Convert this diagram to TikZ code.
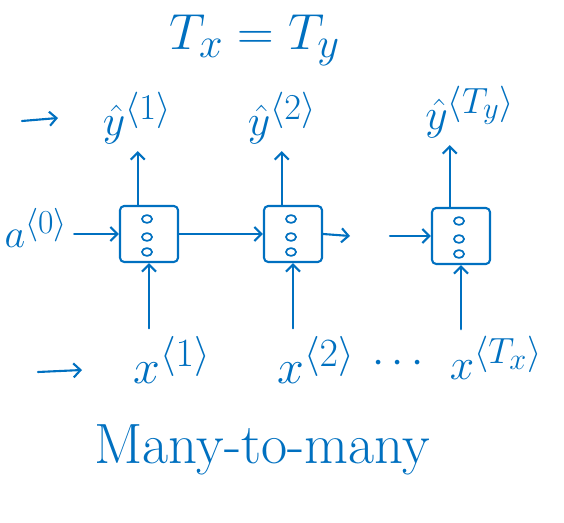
\documentclass[tikz,border=0pt]{standalone}
\usetikzlibrary{arrows.meta}
\definecolor{inkblue}{RGB}{0,112,192}
\begin{document}
\begin{tikzpicture}[x=0.025cm, y=-0.025cm, line width=1.5pt, line join=round, line cap=round,
  >={Straight Barb[length=5pt,width=10pt]}, draw=inkblue, text=inkblue]
	\tikzset{
		cell/.style={draw, rounded corners=3pt, minimum width=1.45cm, minimum height=1.4cm},
		huge/.style={font=\Huge, scale=1.45, transform shape},
		lbl/.style={font=\Huge, scale=1.25, transform shape},
		blip/.style={line width=1.2pt},
	}
	\useasboundingbox (0,0) rectangle (564,523);
	% title and caption
	\node[huge] (title) at (255,40) {$T_x = T_y$};
	\node[huge, scale=1.12] (caption) at (262,450) {Many-to-many};
	% recurrent cells
	\node[cell] (cellA) at (149,234) {};
	\node[cell] (cellB) at (293,234) {};
	\node[cell] (cellC) at (461,236) {};
	\foreach \c in {cellA,cellB,cellC}
		\foreach \dy in {-15,3,18}
			\draw[blip] (\c.center) ++(-2,\dy) ellipse [x radius=3.6pt, y radius=2.8pt];
	% outputs
	\node[lbl] (yA) at (137,118) {$\hat{y}^{\langle 1\rangle}$};
	\node[lbl] (yB) at (282,118) {$\hat{y}^{\langle 2\rangle}$};
	\node[lbl] (yC) at (470,112) {$\hat{y}^{\langle T_y\rangle}$};
	% inputs
	\node[lbl, scale=0.92] (a0) at (36,228) {$a^{\langle 0\rangle}$};
	\node[lbl, scale=1.1] (xA) at (172,360) {$x^{\langle 1\rangle}$};
	\node[lbl, scale=1.1] (xB) at (316,360) {$x^{\langle 2\rangle}$};
	\node[lbl] (gap) at (398,364) {$\cdots$};
	\node[lbl] (xC) at (496,358) {$x^{\langle T_x\rangle}$};
	% free arrow ends
	\coordinate (outL) at (22,121);
	\coordinate (outR) at (58,118);
	\coordinate (inL) at (38,372);
	\coordinate (inR) at (82,370);
	\coordinate (stepB) at (350,236);
	\coordinate (stepC) at (390,236);
	% connectors
	\draw[->] (outL) -- (outR);
	\draw[->] (inL) -- (inR);
	\draw[->] (a0.east |- cellA.west) -- (cellA.west);
	\draw[->] (cellA.east) -- (cellB.west);
	\draw[->] (cellB.east) -- (stepB);
	\draw[->] (stepC) -- (cellC.west);
	\foreach \c/\y/\x in {cellA/yA/xA, cellB/yB/xB, cellC/yC/xC} {
		\draw[->] ([xshift=-8pt]\c.north) -- ([xshift=-8pt]\c.north |- \y.south);
		\draw[->] (\c.south |- \x.north) -- (\c.south);
	}
\end{tikzpicture}
\end{document}
